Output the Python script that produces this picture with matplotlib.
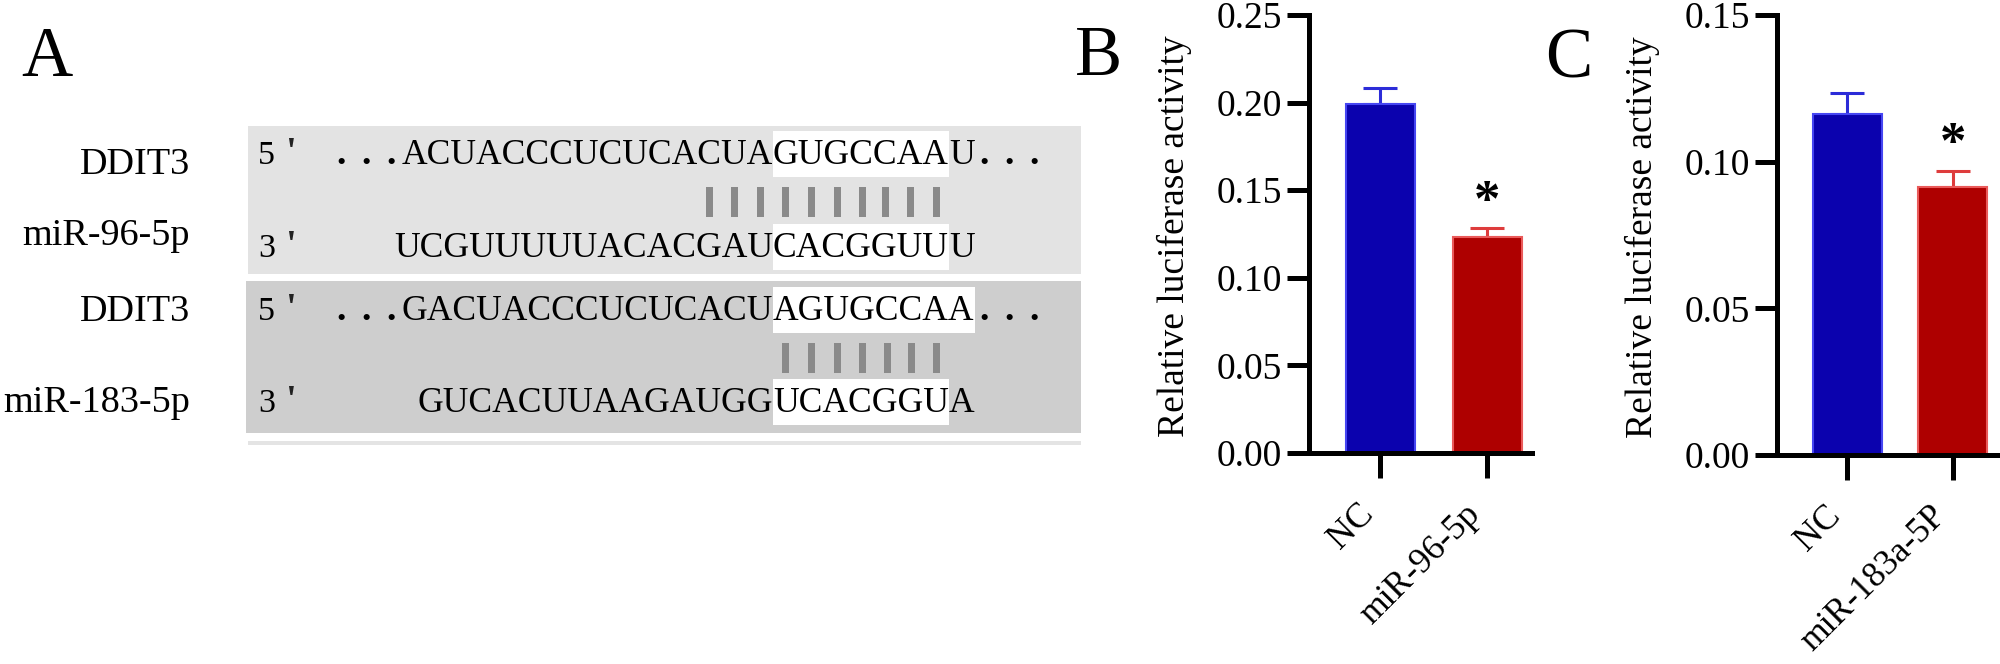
import matplotlib
matplotlib.use("Agg")
import matplotlib.pyplot as plt
from matplotlib.patches import Rectangle
from matplotlib.transforms import ScaledTranslation

plt.rcParams['font.family'] = ['Liberation Serif', 'DejaVu Serif']

# ---------------- Panel A data ----------------
row_labels = ["DDIT3", "miR-96-5p", "DDIT3", "miR-183-5p"]
end_marks = ["5", "3", "5", "3"]
sequences = ["ACUACCCUCUCACUAGUGCCAAU",
             "UCGUUUUUACACGAUCACGGUUU",
             "GACUACCCUCUCACUAGUGCCAA",
             "GUCACUUAAGAUGGUCACGGUA"]
highlight_start = [15, 15, 15, 14]
highlight_end = [22, 22, 23, 21]
has_dots = [True, False, True, False]
pair_start = [12, 15]      # letter index in the DDIT3 row of each block
pair_count = [10, 7]

# ---------------- Panel B / C data ----------------
groups_b = ["NC", "miR-96-5p"]
means_b = [0.199, 0.1232]
sems_b = [0.0095, 0.0052]
ticks_b = [0.00, 0.05, 0.10, 0.15, 0.20, 0.25]

groups_c = ["NC", "miR-183a-5P"]
means_c = [0.1163, 0.0914]
sems_c = [0.0071, 0.0055]
ticks_c = [0.00, 0.05, 0.10, 0.15]

ylabel = "Relative luciferase activity"
face_colors = ["#0b02ae", "#ae0000"]
edge_colors = ["#4646f2", "#ea5a5a"]
err_colors = ["#2c2cd8", "#de3c3c"]

# ---------------- figure ----------------
W, H = 2000, 664
fig = plt.figure(figsize=(20, 6.64), dpi=100)
ax_a = fig.add_axes([0, 0, 1, 1])
ax_a.set_xlim(0, W)
ax_a.set_ylim(H, 0)
ax_a.axis('off')
renderer = fig.canvas.get_renderer()

SEQ_FS = 25.6
LAB_FS = 27.5
ANCHOR_X = 773
row_base = [164, 257, 320, 412]
label_base = [174, 245, 321, 412]


def tw(s, fs=SEQ_FS):
    if not s:
        return 0.0
    t = ax_a.text(0, 0, s, fontsize=fs)
    w = t.get_window_extent(renderer).width
    t.remove()
    return w


# background blocks
ax_a.add_patch(Rectangle((248, 126), 1081 - 248, 274 - 126, fc='#e3e3e3', ec='none', zorder=0))
ax_a.add_patch(Rectangle((246, 281), 1081 - 246, 433 - 281, fc='#cecece', ec='none', zorder=0))
ax_a.add_patch(Rectangle((248, 441), 1081 - 248, 4, fc='#e4e4e4', ec='none', zorder=0))

row_start = []
for i, seq in enumerate(sequences):
    base = row_base[i]
    hs, he = highlight_start[i], highlight_end[i]
    pre, hi, post = seq[:hs], seq[hs:he], seq[he:]
    w_pre, w_hi, w_post = tw(pre), tw(hi), tw(post)
    x0 = ANCHOR_X - w_pre
    row_start.append(x0)
    ax_a.add_patch(Rectangle((ANCHOR_X, base - 33), w_hi, 46, fc='white', ec='none', zorder=1))
    ax_a.text(x0, base, pre, fontsize=SEQ_FS, ha='left', va='baseline', zorder=3)
    ax_a.text(ANCHOR_X, base, hi, fontsize=SEQ_FS, ha='left', va='baseline', zorder=3)
    ax_a.text(ANCHOR_X + w_hi, base, post, fontsize=SEQ_FS, ha='left', va='baseline', zorder=3)
    x_end = ANCHOR_X + w_hi + w_post
    if has_dots[i]:
        for k in range(3):
            ax_a.text(x0 - 11 - k * 25, base, ".", fontsize=27, fontweight='bold',
                      ha='center', va='baseline', zorder=3)
            ax_a.text(x_end + 10 + k * 25, base, ".", fontsize=27, fontweight='bold',
                      ha='center', va='baseline', zorder=3)
    # 5'/3' marks
    ax_a.text(258, base, end_marks[i], fontsize=24.5, ha='left', va='baseline', zorder=3)
    ax_a.text(285, base, "'", fontsize=28, fontweight='bold', ha='left', va='baseline',
              color='#222222', zorder=3)
    # row label
    ax_a.text(190, label_base[i], row_labels[i], fontsize=LAB_FS, ha='right', va='baseline', zorder=3)

# pairing bars
for p in range(2):
    r = 2 * p
    seq = sequences[r]
    base = row_base[r]
    for k in range(pair_start[p], pair_start[p] + pair_count[p]):
        xc = row_start[r] + tw(seq[:k]) + tw(seq[k]) / 2
        ax_a.add_patch(Rectangle((xc - 3.5, base + 23), 7, 30, fc='#8a8a8a', ec='none', zorder=2))

# panel letters
ax_a.text(21, 76, "A", fontsize=51, ha='left', va='baseline')
ax_a.text(1075, 75, "B", fontsize=51, ha='left', va='baseline')
ax_a.text(1545, 78, "C", fontsize=51, ha='left', va='baseline')


def bar_panel(rect, groups, means, sems, ticks, xlim):
    ax = fig.add_axes(rect)
    xs = list(range(len(groups)))
    for j in xs:
        ax.errorbar([j], [means[j]], yerr=[[0], [sems[j]]], fmt='none', ecolor=err_colors[j],
                    elinewidth=2.2, capsize=12.5, capthick=2.2, zorder=1)
    ax.bar(xs, means, width=0.65, color=face_colors, edgecolor=edge_colors,
           linewidth=1.5, zorder=2)
    ax.set_xlim(*xlim)
    ax.set_ylim(ticks[0], ticks[-1])
    ax.set_yticks(ticks)
    ax.set_yticklabels([f"{t:.2f}" for t in ticks])
    ax.set_xticks(xs)
    ax.set_xticklabels(groups, rotation=45, ha='right', fontsize=25.5)
    off = ScaledTranslation(8 / 100, 0, fig.dpi_scale_trans)
    for lab in ax.get_xticklabels():
        lab.set_transform(lab.get_transform() + off)
    for s in ['top', 'right']:
        ax.spines[s].set_visible(False)
    for s in ['left', 'bottom']:
        ax.spines[s].set_linewidth(3.6)
    ax.tick_params(axis='y', direction='out', length=16, width=3.6, pad=3.5, labelsize=27)
    ax.tick_params(axis='x', direction='out', length=18, width=3.6, pad=14, labelsize=25.5)
    ax.set_ylabel(ylabel, fontsize=27)
    ax.yaxis.set_label_coords(-0.525, 0.494)
    ax.set_facecolor('none')
    ax.annotate("*", xy=(1, means[1] + sems[1]), xytext=(0, 9), textcoords='offset points',
                ha='center', va='baseline', fontsize=38, fontweight='bold')
    return ax


bar_panel([1309 / W, 1 - 453 / H, 223 / W, 438 / H], groups_b, means_b, sems_b, ticks_b, (-0.67, 1.42))
bar_panel([1777 / W, 1 - 455 / H, 223 / W, 440 / H], groups_c, means_c, sems_c, ticks_c, (-0.67, 1.45))

fig.savefig("out.png", dpi=100)
